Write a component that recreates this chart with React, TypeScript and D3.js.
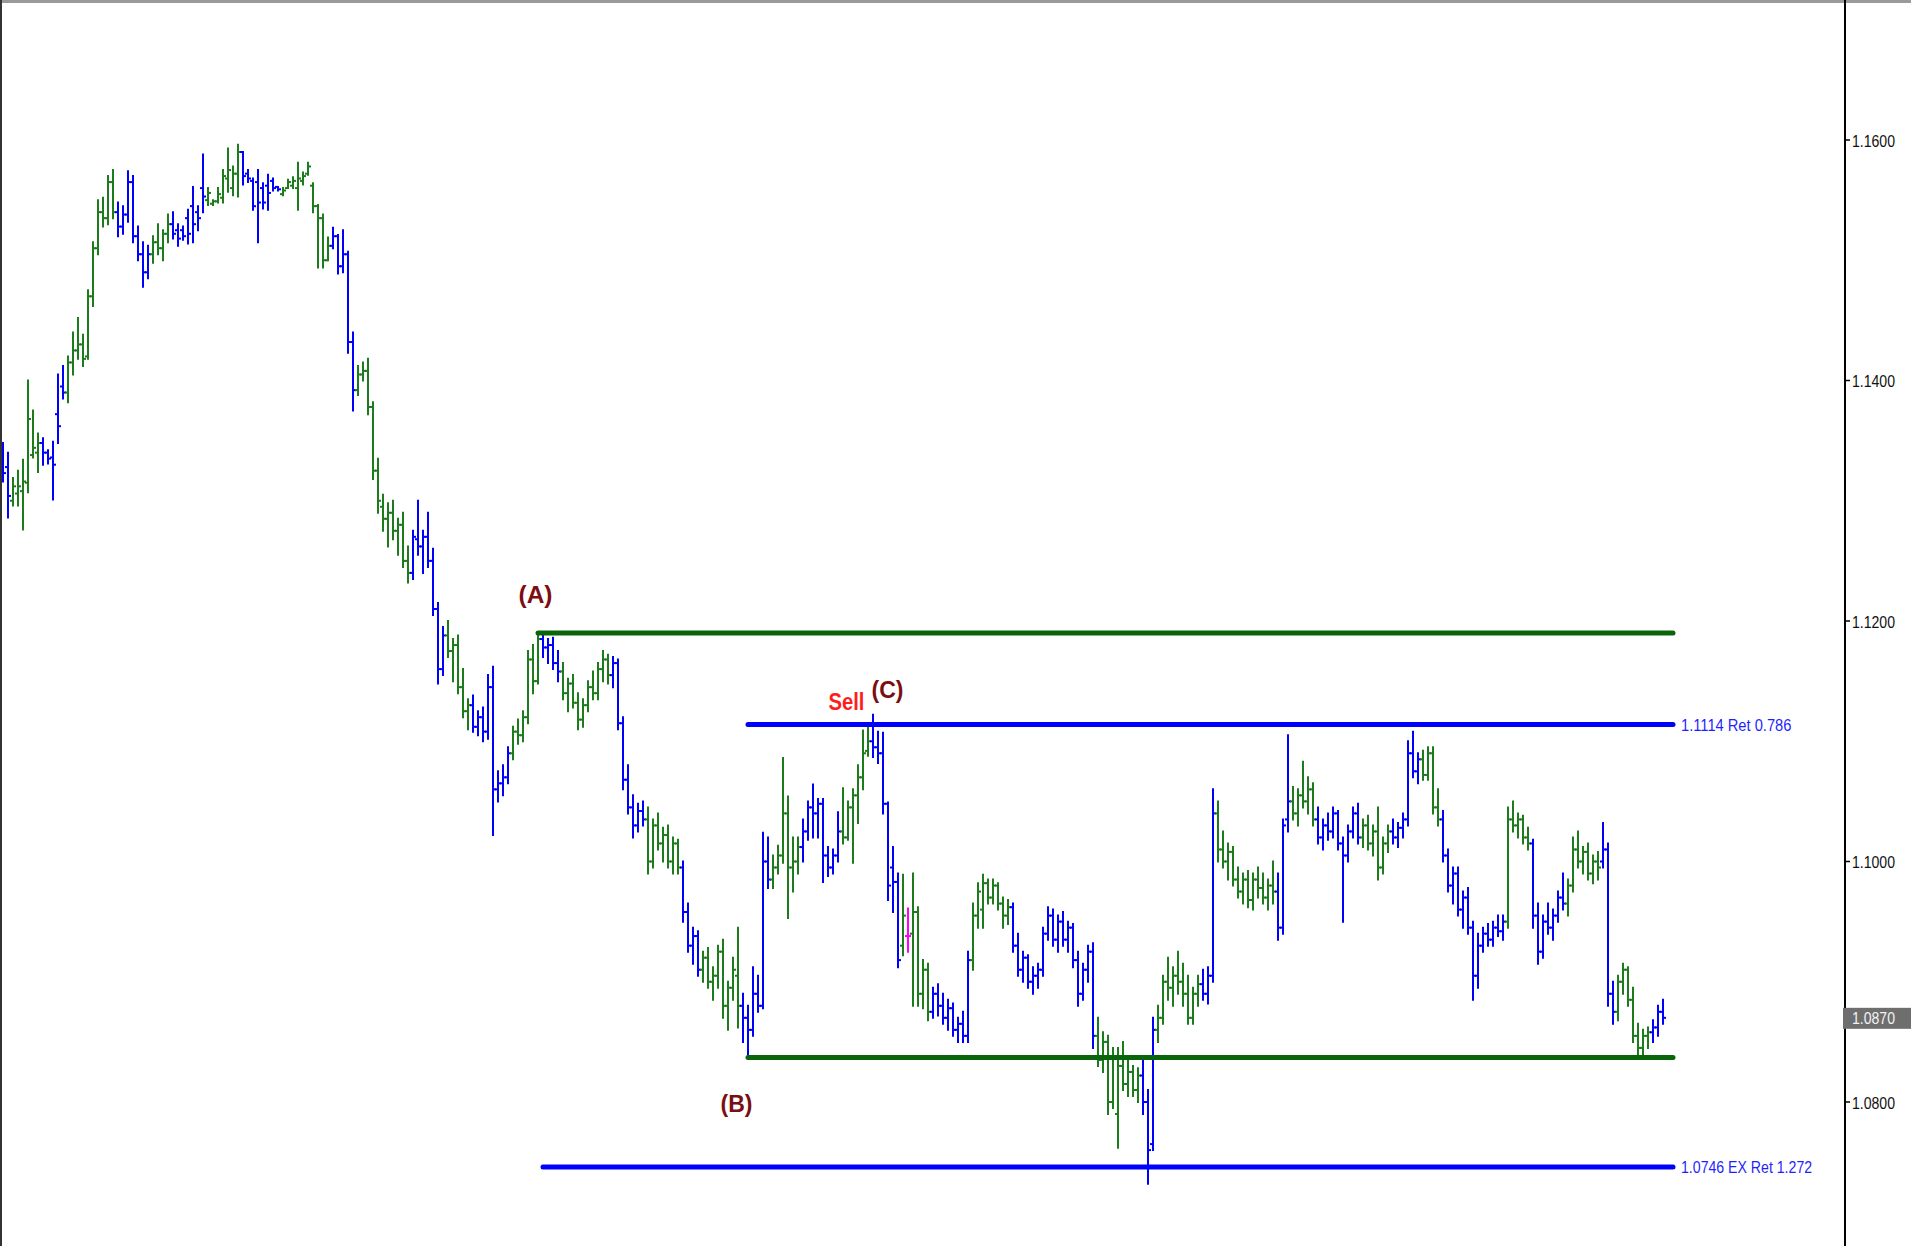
import React, { useEffect } from "react";
import * as d3 from "d3";

type Bar = [number, number, number, number];
// price code: price = 1 + code / 10000 ; [open, high, low, close]
const rallyBars: Bar[] = [
  [1330,1348,1316,1323],[1328,1340,1286,1304],[1300,1319,1296,1312],[1306,1325,1296,1312],
  [1308,1334,1276,1316],[1315,1400,1307,1368],[1338,1375,1336,1344],[1340,1356,1324,1348],
  [1348,1352,1330,1340],[1340,1342,1331,1335],[1336,1349,1301,1330],[1372,1405,1348,1362],
  [1395,1412,1385,1390],[1390,1420,1382,1415],[1415,1440,1405,1425],[1425,1452,1418,1430],
  [1430,1438,1412,1418],[1420,1475,1418,1470],[1470,1515,1462,1510],[1510,1550,1505,1540],
  [1540,1552,1528,1535],[1535,1570,1530,1565],[1565,1575,1535,1540],[1540,1548,1520,1528],
  [1528,1545,1522,1538],[1538,1574,1532,1565],[1565,1570,1515,1520],[1520,1528,1500,1505],
  [1505,1515,1478,1490],[1490,1512,1485,1505],[1505,1520,1498,1515],[1515,1530,1505,1510],
  [1510,1525,1500,1522],[1522,1538,1515,1530],[1530,1540,1518,1522],[1525,1530,1512,1518],
  [1525,1528,1517,1520],[1535,1542,1514,1522],[1545,1561,1515,1530],[1540,1545,1525,1535],
  [1560,1588,1540,1553],[1550,1560,1546,1556],[1547,1550,1546,1549],[1549,1560,1548,1555],
  [1552,1575,1548,1570],[1568,1593,1557,1575],[1560,1578,1554,1572],[1572,1596,1553,1590],
];
const topBars: Bar[] = [
  [1590,1590,1563,1570],[1572,1575,1565,1568],[1566,1568,1542,1545],[1565,1575,1515,1548],
  [1560,1564,1543,1548],[1562,1571,1542,1556],[1566,1568,1558,1560],[1561,1561,1558,1559],
  [1555,1560,1554,1558],[1560,1567,1560,1565],[1562,1569,1560,1566],[1560,1581,1542,1568],
  [1566,1573,1563,1570],[1572,1581,1571,1578],[1562,1564,1540,1545],[1545,1546,1494,1535],
  [1535,1538,1494,1500],[1500,1519,1500,1512],[1512,1527,1510,1520],[1520,1521,1489,1495],
  [1495,1525,1490,1505],
];
const dropBars: Bar[] = [
  [1505,1507,1423,1432],[1432,1440,1375,1392],[1392,1412,1388,1405],[1405,1415,1400,1408],
  [1408,1418,1372,1378],[1378,1382,1318,1325],[1325,1335,1290,1300],[1295,1305,1275,1285],
  [1285,1298,1262,1290],[1290,1300,1268,1275],[1275,1285,1255,1280],[1280,1290,1245,1250],
  [1250,1262,1232,1240],[1240,1275,1235,1270],[1268,1300,1255,1262],[1262,1275,1240,1270],
  [1270,1290,1245,1250],[1250,1260,1205,1210],[1210,1215,1148,1160],[1160,1195,1155,1188],
  [1188,1200,1170,1175],[1175,1185,1150,1180],[1180,1188,1140,1145],[1145,1160,1120,1125],
  [1125,1135,1110,1130],[1130,1138,1108,1112],[1112,1125,1105,1120],[1120,1128,1100,1108],
  [1108,1155,1102,1145],[1145,1162,1022,1060],[1060,1075,1050,1065],[1065,1080,1055,1070],
  [1070,1095,1065,1090],[1090,1112,1085,1108],[1108,1118,1098,1105],[1105,1125,1100,1120],
  [1120,1175,1115,1168],[1168,1180,1140,1150],
];
const waveABars: Bar[] = [
  [1150,1190,1148,1185],[1185,1188,1170,1178],[1178,1185,1165,1180],[1180,1186,1160,1165],
  [1165,1175,1150,1158],[1158,1165,1135,1140],[1140,1152,1125,1148],[1148,1155,1128,1132],
  [1132,1140,1110,1118],[1118,1135,1112,1130],[1130,1150,1125,1145],[1145,1158,1135,1140],
  [1140,1165,1135,1160],[1160,1175,1150,1168],[1168,1172,1148,1155],[1155,1170,1145,1165],
  [1165,1168,1110,1115],[1115,1120,1060,1068],[1068,1080,1040,1045],[1045,1055,1020,1030],
  [1030,1048,1025,1042],[1042,1050,1030,1035],[1035,1045,990,1000],[1000,1035,995,1030],
  [1030,1040,1010,1015],[1015,1028,1000,1022],[1022,1030,995,1000],[1000,1020,990,1015],
  [1015,1018,990,995],[995,1000,950,958],[958,965,925,930],[930,945,915,938],
  [938,942,905,910],[910,925,900,920],[920,928,895,900],[900,912,885,905],
  [905,930,895,925],[925,935,870,880],[880,900,860,895],[895,920,885,910],
  [905,945,862,880],[880,890,850,870],[870,880,837,860],
];
const waveCBars: Bar[] = [
  [860,912,855,890],[890,905,875,880],[880,1024,878,1000],[1000,1020,978,985],
  [985,1005,978,995],[995,1013,990,1005],[1005,1086,999,1040],[1040,1054,953,995],
  [995,1020,975,1000],[1000,1020,990,1012],[1012,1035,1000,1025],[1025,1050,1018,1045],
  [1045,1064,1020,1040],[1040,1052,1020,1048],[1048,1052,983,1005],[1005,1012,988,995],
  [995,1010,990,1005],[1005,1041,1000,1025],[1025,1061,1015,1020],[1020,1050,1018,1045],
  [1045,1060,999,1055],[1055,1080,1032,1070],[1070,1109,1060,1090],[1092,1112,1088,1100],
  [1100,1122,1087,1095],[1095,1108,1082,1090],[1090,1107,1040,1048],
];
const rangeBarsA: Bar[] = [
  [1048,1049,968,980],[995,1012,958,983],[983,990,912,918],[930,989,922,955],
  [938,961,925,938],[940,990,880,958],[958,962,880,890],[890,918,878,910],
  [910,915,868,875],[875,895,870,890],[890,898,872,880],[880,890,865,870],
  [870,885,860,878],[878,882,855,860],[860,870,850,865],[865,875,850,855],
  [855,925,850,918],[918,965,910,955],[955,982,945,975],[960,989,945,982],
  [982,985,965,970],[970,985,965,980],[980,982,960,965],[965,970,945,955],
  [955,968,948,962],[962,965,925,930],[930,940,905,910],[910,925,900,920],
  [920,922,895,900],[900,912,890,905],[905,915,895,910],[910,945,905,940],
  [940,962,935,955],[955,960,930,935],[935,955,925,950],[950,958,930,935],
  [935,950,925,945],[945,948,912,918],[918,925,880,890],[890,915,885,910],
  [910,930,900,925],[925,932,845,855],[855,870,830,835],[835,858,825,850],
  [850,855,790,800],[800,845,795,838],[790,845,762,830],[830,850,810,815],
  [815,835,805,825],[825,830,805,810],[810,828,800,822],[822,835,790,800],
  [800,810,732,760],[765,870,760,860],[860,880,850,870],[870,905,865,900],
  [900,920,885,895],[895,912,880,905],[905,925,890,900],[900,915,880,890],
  [890,905,865,870],[870,895,865,890],[890,905,880,898],[898,910,885,890],
  [890,912,882,905],
];
const rangeBarsB: Bar[] = [
  [905,1060,900,1040],[1040,1050,1000,1010],[1010,1025,995,1000],[1000,1015,985,1008],
  [1008,1012,980,985],[985,995,970,975],[975,990,965,985],[985,992,962,968],
  [968,990,960,985],[985,995,970,978],[978,990,965,970],[970,985,960,980],
  [980,1000,965,975],[975,990,935,945],[945,1035,940,1030],[1035,1105,1025,1050],
  [1050,1062,1035,1040],[1040,1060,1030,1055],[1055,1083,1045,1050],[1050,1070,1040,1060],
  [1060,1065,1030,1035],[1035,1045,1015,1020],[1020,1035,1010,1030],[1030,1040,1018,1025],
  [1025,1045,1020,1040],[1040,1042,1010,1015],[1015,1020,950,1005],[1005,1030,1000,1025],
  [1025,1045,1020,1040],[1040,1048,1015,1020],[1020,1035,1012,1030],[1030,1038,1010,1015],
  [1015,1030,1005,1025],[1025,1045,985,995],[995,1020,990,1015],[1015,1030,1008,1025],
  [1025,1035,1015,1020],[1020,1032,1012,1028],[1028,1040,1020,1035],[1035,1100,1030,1090],
  [1090,1108,1070,1075],[1075,1090,1065,1085],[1085,1092,1068,1072],[1072,1095,1068,1090],
  [1090,1095,1040,1045],[1045,1060,1030,1035],[1035,1042,1000,1005],[1005,1010,975,980],
  [980,995,965,990],[990,995,955,960],[960,975,945,970],[970,978,940,945],
  [945,950,885,905],[905,940,895,930],[930,945,925,940],[940,948,930,935],
  [935,950,930,945],[945,955,938,942],[942,955,935,950],[950,1045,945,1035],
  [1035,1050,1025,1030],[1030,1040,1020,1035],[1035,1038,1015,1020],[1020,1028,1010,1015],
  [1015,1018,945,955],[955,965,915,925],[925,955,920,950],[950,965,940,945],
  [945,960,935,955],[955,975,950,970],[970,990,960,965],[965,985,955,980],
  [980,1020,975,1010],[1010,1025,995,1000],[1000,1012,990,1008],[1008,1015,985,990],
  [990,1005,982,1000],[1000,1008,985,995],[1000,1032,995,1010],[1010,1015,880,890],
  [890,900,865,875],[875,905,868,900],[900,915,890,910],[910,912,880,885],
  [885,895,850,855],[855,865,840,845],[845,860,838,855],[855,862,845,858],
  [858,868,850,862],[862,880,855,875],[875,885,865,870],
];

// bar colour runs: each entry starts a run; runs alternate blue, green, blue, ...
const colorRunStart = [
  0, 2, 8, 13, 23, 30, 34, 41, 48, 56, 66, 71, 82, 89, 94, 102, 108, 112, 122, 129,
  136, 140, 148, 154, 160, 168, 174, 180, 186, 194, 202, 219, 228, 231, 240, 243,
  255, 258, 263, 272, 278, 284, 288, 301, 306, 313, 320, 323, 330,
];
const dojiBars = [181];

const priceTicks = [1.08, 1.1, 1.12, 1.14, 1.16];
const levelPrices = [1.119, 1.1114, 1.0837, 1.0746];
const levelStartBar = [107, 149, 149, 108];
const levelEndBar = [334, 334, 334, 334];
const levelNotes = ["", "1.1114 Ret 0.786", "", "1.0746 EX Ret 1.272"];
const waveLabels = ["(A)", "(B)", "(C)", "Sell"];
const waveLabelBar = [106.5, 146.7, 176.9, 168.7];
const waveLabelPrice = [1.1222, 1.0798, 1.11426, 1.11326];
const lastPrice = 1.087;

const W = 1911;
const H = 1246;
const AXIS_X = 1845;

export default function App() {
  useEffect(() => {
    document.body.style.margin = "0";
  }, []);

  const all = [
    ...rallyBars, ...topBars, ...dropBars, ...waveABars,
    ...waveCBars, ...rangeBarsA, ...rangeBarsB,
  ].map(([o, h, l, c]) => ({
    o: 1 + o / 1e4, h: 1 + h / 1e4, l: 1 + l / 1e4, c: 1 + c / 1e4,
  }));

  const x = d3.scaleLinear().domain([0, all.length - 1]).range([3, 3 + 5 * (all.length - 1)]);
  const y = d3.scaleLinear().domain([1.08, 1.16]).range([1102, 140]);

  const bull = "#1c7c1c";
  const bear = "#0000ff";
  const doji = "#ff00ff";
  const levelColors = ["#0a640a", "#0000ff", "#0a640a", "#0000ff"];
  const labelFont = "'Liberation Sans', Arial, sans-serif";

  const runIndex = (i: number) => d3.bisectRight(colorRunStart, i) - 1;
  const colorOf = (i: number) =>
    dojiBars.includes(i) ? doji : runIndex(i) % 2 === 0 ? bear : bull;

  return (
    <svg
      width={W}
      height={H}
      style={{ position: "absolute", left: 0, top: 0, display: "block", background: "#fff" }}
    >
      <rect x={0} y={0} width={W} height={H} fill="#ffffff" />
      <g>
        {all.map((b, i) => {
          const xi = x(i);
          return (
            <g key={i} stroke={colorOf(i)} strokeWidth={2}>
              <line x1={xi} x2={xi} y1={y(b.h) - 1} y2={y(b.l) + 1} />
              <line x1={xi - 3} x2={xi} y1={y(b.o)} y2={y(b.o)} />
              <line x1={xi} x2={xi + 3} y1={y(b.c)} y2={y(b.c)} />
            </g>
          );
        })}
      </g>
      {levelPrices.map((p, k) => (
        <line
          key={"lv" + k}
          x1={x(levelStartBar[k])}
          x2={x(levelEndBar[k])}
          y1={y(p)}
          y2={y(p)}
          stroke={levelColors[k]}
          strokeWidth={5}
          strokeLinecap="round"
        />
      ))}
      {levelNotes.map((t, k) =>
        t ? (
          <text
            key={"ln" + k}
            x={x(levelEndBar[k]) + 8}
            y={y(levelPrices[k]) + 1}
            dominantBaseline="central"
            fontFamily={labelFont}
            fontSize={16}
            fill="#1f1fff"
            textLength={t.length * 6.9}
            lengthAdjust="spacingAndGlyphs"
          >
            {t}
          </text>
        ) : null
      )}
      {waveLabels.map((t, k) => (
        <text
          key={"wl" + k}
          x={x(waveLabelBar[k])}
          y={y(waveLabelPrice[k])}
          textAnchor="middle"
          dominantBaseline="central"
          fontFamily={labelFont}
          fontWeight="bold"
          fontSize={23}
          fill={t === "Sell" ? "#ff1c1c" : "#7a0e12"}
          textLength={t === "Sell" ? 36 : t === "(A)" ? 34 : 32}
          lengthAdjust="spacingAndGlyphs"
        >
          {t}
        </text>
      ))}
      <rect x={0} y={0} width={W} height={3} fill="#9a9a9a" />
      <rect x={0} y={0} width={2} height={H} fill="#333" />
      <line x1={AXIS_X} x2={AXIS_X} y1={0} y2={H} stroke="#000" strokeWidth={2} />
      {priceTicks.map((p) => (
        <g key={"t" + p}>
          <line x1={AXIS_X} x2={AXIS_X + 5} y1={y(p)} y2={y(p)} stroke="#000" strokeWidth={1.5} />
          <text
            x={AXIS_X + 7}
            y={y(p) + 1}
            dominantBaseline="central"
            fontFamily={labelFont}
            fontSize={16}
            fill="#111"
            textLength={43}
            lengthAdjust="spacingAndGlyphs"
          >
            {p.toFixed(4)}
          </text>
        </g>
      ))}
      <rect x={AXIS_X - 2} y={y(lastPrice) - 10} width={W - AXIS_X + 2} height={21} fill="#6e6e6e" />
      <text
        x={AXIS_X + 7}
        y={y(lastPrice) + 1}
        dominantBaseline="central"
        fontFamily={labelFont}
        fontSize={16}
        fill="#f2f2f2"
        textLength={43}
        lengthAdjust="spacingAndGlyphs"
      >
        {lastPrice.toFixed(4)}
      </text>
    </svg>
  );
}
